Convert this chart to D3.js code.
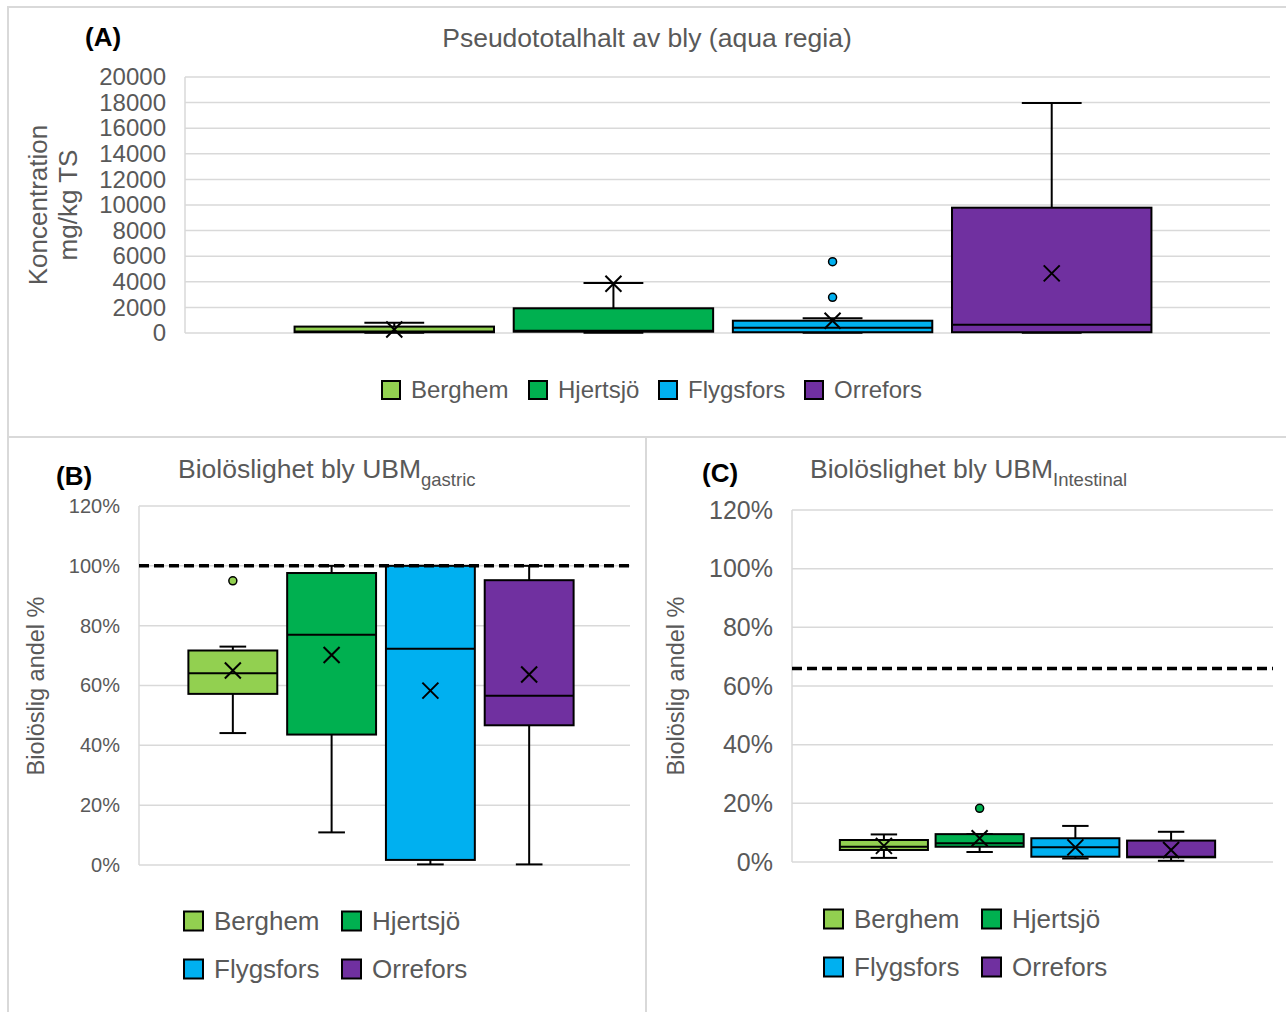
<!DOCTYPE html>
<html>
<head>
<meta charset="utf-8">
<script src="https://cdn.jsdelivr.net/npm/d3@7"></script>
<style>
  html, body { margin: 0; padding: 0; background: #fff; }
  svg { display: block; font-family: "Liberation Sans", Arial, sans-serif; }
</style>
</head>
<body>
<svg id="chart" width="1286" height="1012"></svg>
<script>
// Sampling sites (one box per site in every panel)
const sites = ["Berghem", "Hjertsjö", "Flygsfors", "Orrefors"];
const siteColors = ["#92D050", "#00B050", "#00B0F0", "#7030A0"];

// (A) Pseudo-total lead, aqua regia (mg/kg TS)
const totalMin      = [20, 20, 20, 20];
const totalQ1       = [60, 100, 60, 60];
const totalMedian   = [120, 180, 410, 650];
const totalQ3       = [500, 1930, 960, 9790];
const totalMax      = [800, 3900, 1150, 17970];
const totalMean     = [270, 3850, 960, 4660];
const totalOutliers = [[], [], [2790, 5570], []];
const totalTicks    = [0, 2000, 4000, 6000, 8000, 10000, 12000, 14000, 16000, 18000, 20000];

// (B) Bioaccessible share, UBM gastric phase (%)
const gastricMin      = [44.1, 10.9, 0.2, 0.2];
const gastricQ1       = [57.2, 43.6, 1.7, 46.7];
const gastricMedian   = [64.1, 77.0, 72.3, 56.6];
const gastricQ3       = [71.7, 97.6, 100, 95.2];
const gastricMax      = [73.0, 100, 100, 100];
const gastricMean     = [65.0, 70.2, 58.3, 63.7];
const gastricOutliers = [[95], [], [], []];
const gastricRef      = 100;

// (C) Bioaccessible share, UBM intestinal phase (%)
const intestinalMin      = [1.4, 3.4, 1.2, 0.4];
const intestinalQ1       = [4.1, 5.2, 1.8, 1.6];
const intestinalMedian   = [5.2, 6.4, 5.0, 1.8];
const intestinalQ3       = [7.5, 9.5, 8.1, 7.3];
const intestinalMax      = [9.4, 9.5, 12.3, 10.3];
const intestinalMean     = [5.5, 8.1, 5.0, 4.1];
const intestinalOutliers = [[], [18.3], [], []];
const intestinalRef      = 66;

const pctTicks = [0, 20, 40, 60, 80, 100, 120];

const TEXT = "#595959";
const GRID = "#d9d9d9";

const svg = d3.select("#chart");

// Panel frames
const frame = svg.append("g").attr("stroke", GRID).attr("stroke-width", 2).attr("fill", "none");
frame.append("path").attr("d", "M8,1012 V7 H1286");
frame.append("path").attr("d", "M8,437 H1286");
frame.append("path").attr("d", "M646,437 V1012");

function buildStats(min, q1, med, q3, max, mean, outl) {
  return sites.map((s, i) => ({
    site: s, color: siteColors[i],
    min: min[i], q1: q1[i], median: med[i], q3: q3[i], max: max[i], mean: mean[i],
    outliers: outl[i]
  }));
}

function drawPanel(cfg) {
  const g = svg.append("g");
  const y = d3.scaleLinear().domain(cfg.yDomain).range([cfg.yBottom, cfg.yTop]);
  const x = d3.scaleBand().domain(sites).range(cfg.bandRange)
    .paddingInner(cfg.padInner).paddingOuter(0.5);

  // gridlines
  g.append("g").selectAll("line").data(cfg.ticks).join("line")
    .attr("x1", cfg.gridLeft).attr("x2", cfg.gridRight)
    .attr("y1", d => y(d)).attr("y2", d => y(d))
    .attr("stroke", GRID).attr("stroke-width", 1.5);
  g.append("line")
    .attr("x1", cfg.gridLeft).attr("x2", cfg.gridLeft)
    .attr("y1", y(cfg.yDomain[0])).attr("y2", y(cfg.yDomain[1]))
    .attr("stroke", GRID).attr("stroke-width", 1.5);

  // y axis labels
  const axis = d3.axisLeft(y).tickValues(cfg.ticks).tickFormat(cfg.format).tickSize(0).tickPadding(0);
  const ax = g.append("g").attr("transform", `translate(${cfg.labelRight},0)`).call(axis);
  ax.select(".domain").remove();
  ax.selectAll("text").attr("fill", TEXT).attr("font-size", cfg.tickSize)
    .attr("font-family", "Liberation Sans, Arial, sans-serif");

  const stats = cfg.stats;
  const bw = x.bandwidth();
  const cap = bw * 0.3;
  const boxes = g.append("g").selectAll("g").data(stats).join("g")
    .attr("transform", d => `translate(${x(d.site)},0)`);

  // whiskers
  boxes.append("line").attr("x1", bw / 2).attr("x2", bw / 2)
    .attr("y1", d => y(d.q3)).attr("y2", d => y(d.max))
    .attr("stroke", "#000").attr("stroke-width", 2);
  boxes.append("line").attr("x1", bw / 2).attr("x2", bw / 2)
    .attr("y1", d => y(d.q1)).attr("y2", d => y(d.min))
    .attr("stroke", "#000").attr("stroke-width", 2);
  boxes.append("line").attr("x1", bw / 2 - cap / 2).attr("x2", bw / 2 + cap / 2)
    .attr("y1", d => y(d.max)).attr("y2", d => y(d.max))
    .attr("stroke", "#000").attr("stroke-width", 2);
  boxes.append("line").attr("x1", bw / 2 - cap / 2).attr("x2", bw / 2 + cap / 2)
    .attr("y1", d => y(d.min)).attr("y2", d => y(d.min))
    .attr("stroke", "#000").attr("stroke-width", 2);

  // boxes
  boxes.append("rect").attr("x", 0).attr("width", bw)
    .attr("y", d => y(d.q3)).attr("height", d => y(d.q1) - y(d.q3))
    .attr("fill", d => d.color).attr("stroke", "#000").attr("stroke-width", 2);
  boxes.append("line").attr("x1", 0).attr("x2", bw)
    .attr("y1", d => y(d.median)).attr("y2", d => y(d.median))
    .attr("stroke", "#000").attr("stroke-width", 2);

  // mean markers
  const m = 8;
  boxes.append("path")
    .attr("d", d => {
      const cx = bw / 2, cy = y(d.mean);
      return `M${cx - m},${cy - m}L${cx + m},${cy + m}M${cx - m},${cy + m}L${cx + m},${cy - m}`;
    })
    .attr("stroke", "#000").attr("stroke-width", 2).attr("fill", "none");

  // outliers
  boxes.each(function (d) {
    d3.select(this).selectAll("circle").data(d.outliers).join("circle")
      .attr("cx", bw / 2).attr("cy", v => y(v)).attr("r", 4)
      .attr("fill", d.color).attr("stroke", "#000").attr("stroke-width", 1.5);
  });

  // dashed reference line
  if (cfg.ref !== undefined) {
    g.append("line")
      .attr("x1", cfg.gridLeft).attr("x2", cfg.gridRight)
      .attr("y1", y(cfg.ref)).attr("y2", y(cfg.ref))
      .attr("stroke", "#000").attr("stroke-width", 3.5).attr("stroke-dasharray", "10,5");
  }

  // panel letter
  g.append("text").attr("x", cfg.letterX).attr("y", cfg.letterY).attr("dy", "0.35em")
    .attr("font-size", 26).attr("font-weight", "bold").attr("fill", "#000").text(cfg.letter);

  // title (with optional subscript)
  const t = g.append("text").attr("x", cfg.titleX).attr("y", cfg.titleY).attr("dy", "0.35em")
    .attr("font-size", 26.5).attr("fill", TEXT).attr("text-anchor", cfg.titleAnchor || "start");
  t.append("tspan").text(cfg.title);
  if (cfg.titleSub) {
    t.append("tspan").attr("font-size", 18.5).attr("dy", 8).text(cfg.titleSub);
  }

  // y axis title
  const yt = g.append("text").attr("font-size", cfg.yTitleSize).attr("fill", TEXT)
    .attr("text-anchor", "middle")
    .attr("transform", `translate(${cfg.yTitleX},${cfg.yTitleY}) rotate(-90)`);
  cfg.yTitle.forEach((line, i) => {
    yt.append("tspan").attr("x", 0).attr("y", i * cfg.yTitleLine).attr("dy", "0.35em").text(line);
  });

  // legend
  const lg = g.append("g").selectAll("g").data(stats).join("g")
    .attr("transform", (d, i) => `translate(${cfg.legendPos[i][0]},${cfg.legendPos[i][1]})`);
  lg.append("rect").attr("x", 0).attr("y", -cfg.legendSq / 2)
    .attr("width", cfg.legendSq).attr("height", cfg.legendSq)
    .attr("fill", d => d.color).attr("stroke", "#000").attr("stroke-width", 2);
  lg.append("text").attr("x", cfg.legendSq + cfg.legendGap).attr("dy", "0.35em")
    .attr("font-size", cfg.legendSize).attr("fill", TEXT).text(d => d.site);
}

// (A)
drawPanel({
  stats: buildStats(totalMin, totalQ1, totalMedian, totalQ3, totalMax, totalMean, totalOutliers),
  yDomain: [0, 20000], yBottom: 333, yTop: 77,
  ticks: totalTicks, format: d3.format("d"), tickSize: 24, labelRight: 166,
  gridLeft: 185, gridRight: 1270, bandRange: [185, 1261], padInner: 0.09,
  letter: "(A)", letterX: 85, letterY: 37,
  title: "Pseudototalhalt av bly (aqua regia)", titleX: 647, titleY: 38, titleAnchor: "middle",
  yTitle: ["Koncentration", "mg/kg TS"], yTitleX: 38, yTitleY: 205, yTitleLine: 30, yTitleSize: 26,
  legendPos: [[382, 390], [529, 390], [659, 390], [805, 390]],
  legendSq: 18, legendGap: 11, legendSize: 24
});

// (B)
drawPanel({
  stats: buildStats(gastricMin, gastricQ1, gastricMedian, gastricQ3, gastricMax, gastricMean, gastricOutliers),
  yDomain: [0, 120], yBottom: 865, yTop: 506,
  ticks: pctTicks, format: d => d + "%", tickSize: 20, labelRight: 120,
  gridLeft: 139, gridRight: 630, bandRange: [139, 623], padInner: 0.1,
  ref: gastricRef,
  letter: "(B)", letterX: 56, letterY: 476,
  title: "Biolöslighet bly UBM", titleSub: "gastric", titleX: 178, titleY: 469,
  yTitle: ["Biolöslig andel %"], yTitleX: 36, yTitleY: 686, yTitleLine: 0, yTitleSize: 23.5,
  legendPos: [[184, 921], [342, 921], [184, 969], [342, 969]],
  legendSq: 19, legendGap: 11, legendSize: 26
});

// (C)
drawPanel({
  stats: buildStats(intestinalMin, intestinalQ1, intestinalMedian, intestinalQ3, intestinalMax, intestinalMean, intestinalOutliers),
  yDomain: [0, 120], yBottom: 862, yTop: 510,
  ticks: pctTicks, format: d => d + "%", tickSize: 25, labelRight: 773,
  gridLeft: 792, gridRight: 1273, bandRange: [792, 1263], padInner: 0.08,
  ref: intestinalRef,
  letter: "(C)", letterX: 702, letterY: 473,
  title: "Biolöslighet bly UBM", titleSub: "Intestinal", titleX: 810, titleY: 469,
  yTitle: ["Biolöslig andel %"], yTitleX: 676, yTitleY: 686, yTitleLine: 0, yTitleSize: 23.5,
  legendPos: [[824, 919], [982, 919], [824, 967], [982, 967]],
  legendSq: 19, legendGap: 11, legendSize: 26
});
</script>
</body>
</html>
